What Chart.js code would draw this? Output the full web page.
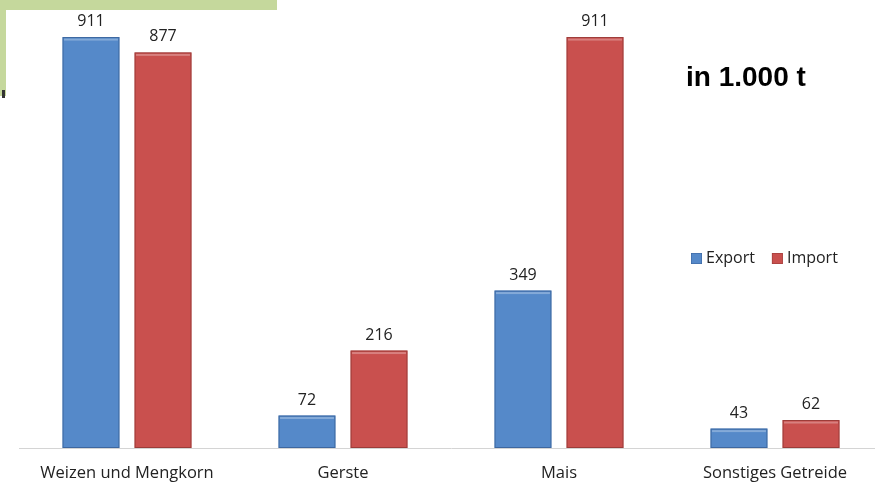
<!DOCTYPE html>
<html>
<head>
<meta charset="utf-8">
<script src="https://cdn.jsdelivr.net/npm/chart.js@4"></script>
<style>
html,body{margin:0;padding:0;background:#fff;overflow:hidden;}
#wrap{position:relative;width:890px;height:482px;}
</style>
</head>
<body>
<div id="wrap"><canvas id="c" width="890" height="482"></canvas></div>
<script>
const categories = ["Weizen und Mengkorn", "Gerste", "Mais", "Sonstiges Getreide"];
const exportValues = [911, 72, 349, 43];
const importValues = [877, 216, 911, 62];
const seriesNames = ["Export", "Import"];
const unitLabel = "in 1.000 t";

const FONT = "'Open Sans', sans-serif";

const decor = {
  id: 'decor',
  beforeDraw(chart) {
    const ctx = chart.ctx;
    ctx.save();
    ctx.fillStyle = '#c5d89c';
    ctx.fillRect(0, 0, 277, 10);
    ctx.fillRect(0, 0, 6, 96);
    ctx.fillStyle = '#333';
    ctx.fillRect(2, 90, 3, 8);
    ctx.restore();
  },
  afterDatasetsDraw(chart) {
    const ctx = chart.ctx;
    ctx.save();
    chart.data.datasets.forEach((ds, i) => {
      const meta = chart.getDatasetMeta(i);
      meta.data.forEach((bar, j) => {
        const w = bar.width;
        const l = bar.x - w / 2;
        ctx.fillStyle = 'rgba(255,255,255,0.28)';
        ctx.fillRect(l + 1.5, bar.y + 1.5, w - 3, 2);
        ctx.strokeStyle = ds.borderColor;
        ctx.lineWidth = 1;
        ctx.strokeRect(l + 0.5, bar.y + 0.5, w - 1, bar.base - bar.y - 1);
        ctx.fillStyle = '#222';
        ctx.font = "16px " + FONT;
        ctx.textAlign = 'center';
        ctx.textBaseline = 'alphabetic';
        ctx.fillText(String(ds.data[j]), bar.x, bar.y - 11);
      });
    });
    ctx.font = "bold 28px 'Liberation Sans', Arial, sans-serif";
    ctx.fillStyle = '#000';
    ctx.textAlign = 'left';
    ctx.textBaseline = 'alphabetic';
    ctx.fillText(unitLabel, 686, 86);
    ctx.font = "16px " + FONT;
    ctx.textBaseline = 'middle';
    let x = 691;
    const y = 258.5;
    chart.data.datasets.forEach((ds, i) => {
      ctx.fillStyle = ds.backgroundColor;
      ctx.fillRect(x, y - 5.5, 11, 11);
      ctx.strokeStyle = ds.borderColor;
      ctx.lineWidth = 0.6;
      ctx.strokeRect(x + 0.3, y - 5.2, 10.4, 10.4);
      ctx.fillStyle = '#222';
      ctx.fillText(ds.label, x + 15, y);
      x += 15 + ctx.measureText(ds.label).width + 17;
    });
    ctx.restore();
  }
};

new Chart(document.getElementById('c'), {
  type: 'bar',
  data: {
    labels: categories,
    datasets: [
      { label: seriesNames[0], data: exportValues, backgroundColor: '#5589c9', borderColor: 'rgba(55,95,150,0.8)', borderWidth: 0 },
      { label: seriesNames[1], data: importValues, backgroundColor: '#c9504e', borderColor: 'rgba(145,55,52,0.8)', borderWidth: 0 }
    ]
  },
  options: {
    responsive: false,
    animation: false,
    devicePixelRatio: 1,
    layout: { padding: { left: 19, right: 7, top: 10, bottom: 0 } },
    datasets: { bar: { categoryPercentage: 0.667, barPercentage: 0.79 } },
    plugins: { legend: { display: false }, tooltip: { enabled: false } },
    scales: {
      x: {
        grid: { display: true, drawOnChartArea: false, drawTicks: false },
        border: { display: true, color: '#d4d4d4', width: 1 },
        ticks: { color: '#222', font: { family: FONT, size: 16.5 }, padding: 15, maxRotation: 0 },
        afterFit(scale) { scale.height = 34; }
      },
      y: { display: false, min: 0, max: 971 }
    }
  },
  plugins: [decor]
});
</script>
</body>
</html>
